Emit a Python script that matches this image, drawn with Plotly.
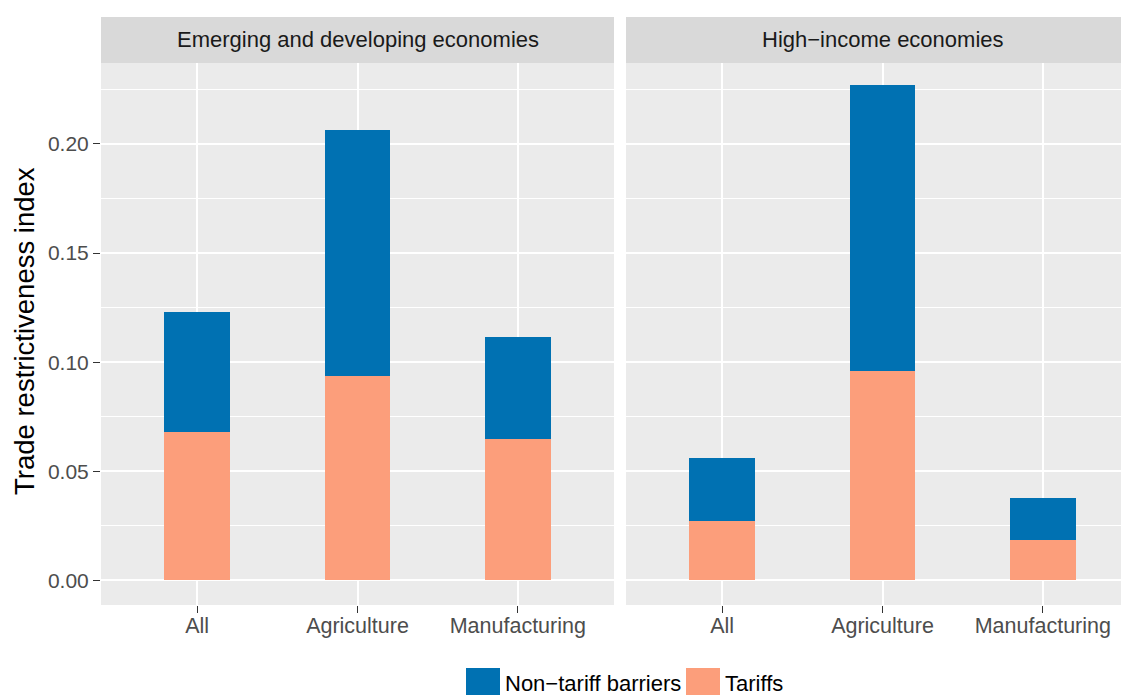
import plotly.graph_objects as go

categories = ["All", "Agriculture", "Manufacturing"]
panels = ["Emerging and developing economies", "High\u2212income economies"]
series_names = ["Non\u2212tariff barriers", "Tariffs"]

# values per panel
emerging_tariffs = [0.0681, 0.0938, 0.0648]
emerging_ntb = [0.0551, 0.1126, 0.0465]
high_tariffs = [0.0271, 0.0961, 0.0186]
high_ntb = [0.0290, 0.1309, 0.0193]

y_tickvals = [0.00, 0.05, 0.10, 0.15, 0.20]
y_ticktext = ["0.00", "0.05", "0.10", "0.15", "0.20"]

BLUE = "#0071B2"
ORANGE = "#FC9E7B"
PANEL_BG = "#EBEBEB"
STRIP_BG = "#D9D9D9"
FONT = "Liberation Sans"

OFF = 8  # page body margin
W, H = 1129 - OFF, 695 - OFF
ML, MR, MT = 101 - OFF, 0, 63 - OFF
MB = H - (605 - OFF)
PW = W - ML - MR
PH = H - MT - MB

def px_x(p):
    # p given in reference-picture pixels
    return (p - OFF - ML) / PW

def px_y(p):
    return (H - MB - (p - OFF)) / PH

BARW = 0.41

fig = go.Figure()
for tariffs, ntb, xa, ya in [
    (emerging_tariffs, emerging_ntb, "x", "y"),
    (high_tariffs, high_ntb, "x2", "y2"),
]:
    fig.add_trace(go.Bar(x=categories, y=tariffs, name=series_names[1],
                         marker=dict(color=ORANGE, line=dict(width=0)),
                         width=BARW, xaxis=xa, yaxis=ya, showlegend=False))
    fig.add_trace(go.Bar(x=categories, y=ntb, name=series_names[0],
                         marker=dict(color=BLUE, line=dict(width=0)),
                         width=BARW, xaxis=xa, yaxis=ya, showlegend=False))

yr = [-0.0113, 0.2371]
common_x = dict(showgrid=True, gridcolor="white", gridwidth=1.6,
                ticks="outside", ticklen=7, tickwidth=1, tickcolor="#333333",
                tickfont=dict(family=FONT, size=21.5, color="#4D4D4D"),
                ticklabelstandoff=-6,
                showline=False, zeroline=False, type="category")
common_y = dict(range=yr, showgrid=True, gridcolor="white", gridwidth=1.6,
                tickvals=y_tickvals, ticktext=y_ticktext,
                zeroline=False, showline=False,
                minor=dict(tick0=0.025, dtick=0.05, showgrid=True,
                           gridcolor="white", gridwidth=0.8, ticks=""))

fig.update_layout(
    width=W, height=H,
    margin=dict(l=ML, r=MR, t=MT, b=MB, pad=0),
    paper_bgcolor="white", plot_bgcolor=PANEL_BG,
    barmode="stack",
    showlegend=False,
    font=dict(family=FONT),
    xaxis=dict(domain=[0, px_x(614)], range=[-0.6, 2.6], anchor="y", **common_x),
    xaxis2=dict(domain=[px_x(626), 1], range=[-0.6, 2.6 - 10 / 160], anchor="y2", **common_x),
    yaxis=dict(anchor="x", ticks="outside", ticklen=7, tickwidth=1, tickcolor="#333333",
               tickfont=dict(family=FONT, size=21, color="#4D4D4D"), **common_y),
    yaxis2=dict(anchor="x2", matches="y", showticklabels=False, ticks="", **common_y),
)

shapes = []
# facet strips
for x0, x1 in [(px_x(101), px_x(614)), (px_x(626), 1.0)]:
    shapes.append(dict(type="rect", xref="paper", yref="paper",
                       x0=x0, x1=x1, y0=1.0, y1=px_y(17),
                       fillcolor=STRIP_BG, line=dict(width=0), layer="below"))
# legend keys
shapes.append(dict(type="rect", xref="paper", yref="paper",
                   x0=px_x(466), x1=px_x(500), y0=px_y(702), y1=px_y(668),
                   fillcolor=BLUE, line=dict(width=0)))
shapes.append(dict(type="rect", xref="paper", yref="paper",
                   x0=px_x(686), x1=px_x(720), y0=px_y(702), y1=px_y(668),
                   fillcolor=ORANGE, line=dict(width=0)))
fig.update_layout(shapes=shapes)

annotations = [
    dict(text=panels[0], x=px_x(357.5), y=px_y(39.5), xref="paper", yref="paper",
         showarrow=False, xanchor="center", yanchor="middle",
         font=dict(family=FONT, size=22, color="#1A1A1A")),
    dict(text=panels[1], x=px_x(882.5), y=px_y(39.5), xref="paper", yref="paper",
         showarrow=False, xanchor="center", yanchor="middle",
         font=dict(family=FONT, size=22, color="#1A1A1A")),
    dict(text="Trade restrictiveness index", x=px_x(24), y=px_y(331),
         xref="paper", yref="paper", showarrow=False, textangle=-90,
         xanchor="center", yanchor="middle",
         font=dict(family=FONT, size=27.5, color="black")),
    dict(text=series_names[0], x=px_x(503), y=px_y(683), xref="paper", yref="paper",
         showarrow=False, xanchor="left", yanchor="middle",
         font=dict(family=FONT, size=22, color="black")),
    dict(text=series_names[1], x=px_x(723), y=px_y(683), xref="paper", yref="paper",
         showarrow=False, xanchor="left", yanchor="middle",
         font=dict(family=FONT, size=22, color="black")),
]
fig.update_layout(annotations=annotations)

fig.write_html("out.html")
